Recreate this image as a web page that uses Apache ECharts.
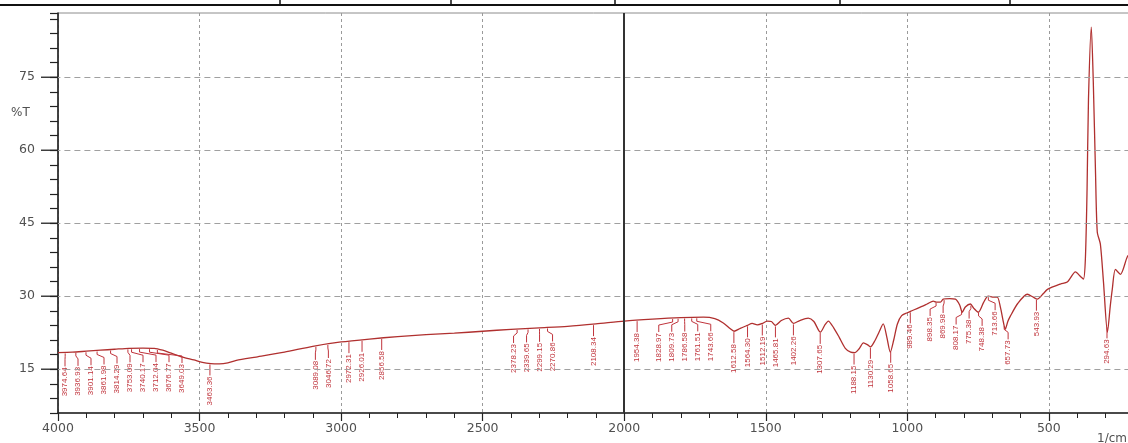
<!DOCTYPE html>
<html><head><meta charset="utf-8">
<script src="https://cdn.jsdelivr.net/npm/echarts@6/dist/echarts.min.js"></script>
<style>html,body{margin:0;padding:0;background:#fff}#c{width:1128px;height:443px}</style>
</head><body><div id="c"></div>
<script>
// ---- data ----
const wavenumbers = [4000,3950,3900,3850,3800,3750,3700,3660,3630,3600,3560,3520,3490,3460,3430,3400,3370,3300,3200,3100,3000,2900,2800,2700,2600,2500,2400,2300,2200,2100,2000,1900,1800,1720,1680,1650,1625,1612,1590,1565,1548,1530,1512,1495,1480,1466,1445,1420,1402,1380,1350,1330,1307,1290,1279,1260,1240,1219,1200,1185,1170,1155,1140,1130,1115,1100,1085,1072,1060,1048,1035,1020,1000,989,960,930,908,898,883,873,850,830,815,806,795,777,765,749,730,714,695,682,671,660,654,645,636,610,576,555,541,520,505,459,435,406,389,378,371,365,360,350,343,335,329,318,307,293,283,276,265,247,222,205];
const transmittance = [18.4,18.5,18.7,18.9,19.1,19.3,19.35,19.3,18.9,18.3,17.5,16.9,16.4,16.15,16.1,16.3,16.8,17.5,18.5,19.7,20.6,21.2,21.7,22.1,22.4,22.8,23.2,23.5,23.8,24.3,24.9,25.3,25.6,25.7,25.4,24.5,23.3,22.8,23.4,24.0,24.4,24.1,24.4,24.9,24.8,24.0,25.0,25.5,24.4,25.0,25.5,24.8,22.6,24.2,24.9,23.5,21.5,19.3,18.5,18.4,19.2,20.4,20.0,19.6,20.8,22.6,24.3,21.5,18.5,21.0,24.3,26.0,26.6,26.9,27.6,28.4,29.0,28.8,28.8,29.4,29.5,29.4,28.2,26.7,27.8,28.4,27.5,26.7,28.8,30.0,29.8,29.8,27.7,24.5,23.2,24.8,25.9,28.5,30.4,29.8,29.4,30.5,31.4,32.5,32.9,35.0,34.1,33.5,37.6,52.0,70.5,85.3,74.0,55.0,43.2,40.7,32.9,22.6,28.0,31.4,35.5,34.5,38.2,39.0];
const peakWavenumbers = [3974.64,3936.93,3901.14,3861.98,3814.29,3753.09,3740.17,3712.04,3676.77,3649.03,3463.36,3089.08,3046.72,2972.31,2926.01,2856.58,2378.23,2339.65,2299.15,2270.86,2108.34,1954.38,1828.97,1809.73,1786.58,1761.51,1743.66,1612.58,1564.30,1512.19,1465.81,1402.26,1307.65,1188.15,1130.29,1058.65,989.46,898.35,869.98,808.17,775.38,748.38,713.66,657.73,543.93,294.63];
const xTickLabels = [4000,3500,3000,2500,2000,1500,1000,500];
const yTickLabels = [15,30,45,60,75];
const yAxisName = '%T';
const xAxisName = '1/cm';

const RED_LINE = '#b0302f';
const RED_TEXT = '#c0343c';
const FONT = '"DejaVu Sans", sans-serif';

function interpT(w){
  for(let i=0;i<wavenumbers.length-1;i++){
    const a=wavenumbers[i], b=wavenumbers[i+1];
    if(w<=a && w>=b){ const t=(a-w)/(a-b); return transmittance[i]+(transmittance[i+1]-transmittance[i])*t; }
  }
  return transmittance[transmittance.length-1];
}
const spectrum = wavenumbers.map((w,i)=>[w, transmittance[i]]);
const peakData = peakWavenumbers.map(w=>[w, interpT(w)]);
const peakLabels = peakWavenumbers.map(w=>w.toFixed(2));

function layoutPeaks(api){
  const pts = peakData.map(d=>api.coord(d));
  const GAP = 13;
  const LEFT = api.coord([4000, 50])[0] + 7;
  const clusters = pts.map((p,i)=>({idx:[i], sum:p[0]}));
  const start = c => Math.max(c.sum/c.idx.length - (c.idx.length-1)*GAP/2, LEFT);
  let changed = true;
  while(changed){
    changed = false;
    for(let k=0;k<clusters.length-1;k++){
      const c1=clusters[k], c2=clusters[k+1];
      const end1 = start(c1) + (c1.idx.length-1)*GAP;
      if(start(c2) - end1 < GAP){
        c1.idx = c1.idx.concat(c2.idx); c1.sum += c2.sum;
        clusters.splice(k+1,1); changed = true; break;
      }
    }
  }
  const out = [];
  clusters.forEach(c=>{
    const s = start(c);
    const multi = c.idx.length>1;
    c.idx.forEach((i,j)=>{
      const py = pts[i][1];
      out[i] = {px:pts[i][0], py, lx:s+j*GAP, multi, bend: py+7, top: py+(multi?14:12)};
    });
  });
  return out;
}

const chart = echarts.init(document.getElementById('c'), null, {renderer:'canvas'});
const staticGraphics = [
  {type:'line', shape:{x1:0,y1:5,x2:1128,y2:5}, style:{stroke:'#111', lineWidth:2}},
  {type:'line', shape:{x1:280,y1:0,x2:280,y2:5}, style:{stroke:'#111', lineWidth:1.5}},
  {type:'line', shape:{x1:451,y1:0,x2:451,y2:5}, style:{stroke:'#111', lineWidth:1.5}},
  {type:'line', shape:{x1:615,y1:0,x2:615,y2:5}, style:{stroke:'#111', lineWidth:1.5}},
  {type:'line', shape:{x1:840,y1:0,x2:840,y2:5}, style:{stroke:'#111', lineWidth:1.5}},
  {type:'line', shape:{x1:1010,y1:0,x2:1010,y2:5}, style:{stroke:'#111', lineWidth:1.5}},
  {type:'text', left:11, top:107, style:{text:yAxisName, fill:'#505050', font:'12px '+FONT}},
  {type:'text', left:1097, top:433, style:{text:xAxisName, fill:'#505050', font:'12px '+FONT}}
];
chart.setOption({
  animation:false,
  backgroundColor:'#fff',
  grid:{left:58, top:13, bottom:30, width:1132.4, outerBoundsMode:'none', containLabel:false,
    show:true, borderColor:'#8c8c8c', borderWidth:1, backgroundColor:'transparent'},
  xAxis:{
    type:'value', min:0, max:4000, interval:500, inverse:true,
    axisLine:{show:true, onZero:false, lineStyle:{color:'#222', width:1.6}},
    axisTick:{show:true, length:8, lineStyle:{color:'#222', width:1.2}},
    minorTick:{show:true, splitNumber:5, length:5, lineStyle:{color:'#222', width:1}},
    axisLabel:{margin:9, fontSize:12.5, color:'#505050', fontFamily:FONT,
      formatter:v=> xTickLabels.indexOf(v)>=0 ? String(v) : ''},
    splitLine:{show:true, lineStyle:{color:'#9a9a9a', type:[3,3], width:1}}
  },
  yAxis:{
    type:'value', min:6, max:88.2, interval:3, position:'left',
    axisLine:{show:true, onZero:false, lineStyle:{color:'#222', width:1.6}},
    axisTick:{show:true, length:8, lineStyle:{color:'#222', width:1.2}},
    axisLabel:{show:true, margin:23, fontSize:12.5, color:'#505050', fontFamily:FONT,
      formatter:v=> yTickLabels.indexOf(v)>=0 ? String(v) : ''},
    splitLine:{show:false}
  },
  graphic: staticGraphics,
  series:[{
    type:'line', data:spectrum, showSymbol:false, smooth:0.25, z:3,
    lineStyle:{color:RED_LINE, width:1.3},
    markLine:{
      silent:true, symbol:'none', animation:false, label:{show:false},
      data: yTickLabels.map(v=>({yAxis:v, lineStyle:{color:'#a0a0a0', type:[6,4], width:1}}))
        .concat([{xAxis:2000, lineStyle:{color:'#333', type:'solid', width:2}}])
    }
  },{
    type:'custom', data:peakData, z:4, clip:false,
    renderItem:function(params, api){
      const ctx = params.context;
      if(!ctx.layout) ctx.layout = layoutPeaks(api);
      const L = ctx.layout[params.dataIndex];
      const points = L.multi
        ? [[L.px, L.py+1],[L.px, L.py+4],[L.lx, L.bend],[L.lx, L.top]]
        : [[L.px, L.py+1],[L.lx, L.top]];
      return {type:'group', children:[
        {type:'polyline', shape:{points}, style:{stroke:RED_TEXT, lineWidth:1, fill:null}},
        {type:'text', x:L.lx, y:L.top+1, rotation:Math.PI/2,
          style:{text:peakLabels[params.dataIndex], x:0, y:0, fill:RED_TEXT,
            font:'8px "Liberation Sans", sans-serif', align:'right', verticalAlign:'middle'}}
      ]};
    }
  }]
});
// longer major ticks on the y axis, placed through the chart's own y scale
const axisX = chart.convertToPixel({xAxisIndex:0}, 4000);
const majorTicks = yTickLabels.map(v=>{
  const y = chart.convertToPixel({yAxisIndex:0}, v);
  return {type:'line', shape:{x1:axisX-17, y1:y, x2:axisX, y2:y}, style:{stroke:'#222', lineWidth:1.3}};
});
chart.setOption({graphic: staticGraphics.concat(majorTicks)}, {replaceMerge:['graphic']});
</script></body></html>
